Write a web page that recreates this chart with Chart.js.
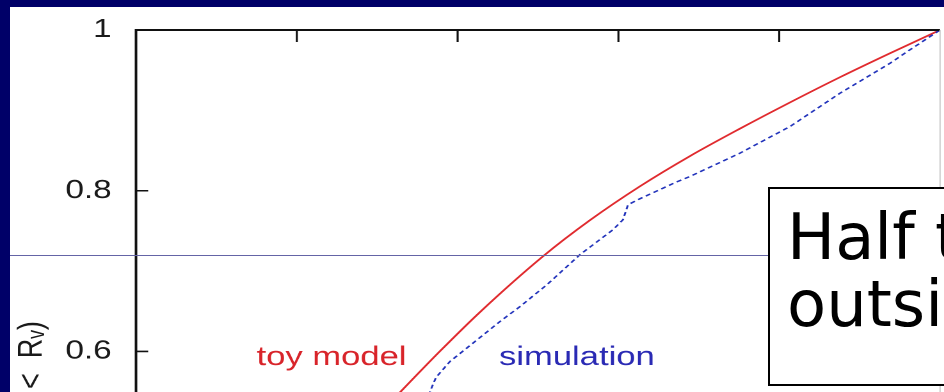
<!DOCTYPE html>
<html>
<head>
<meta charset="utf-8">
<script src="https://cdn.jsdelivr.net/npm/chart.js@4"></script>
<style>
  html, body { margin: 0; padding: 0; }
  body { width: 944px; height: 392px; overflow: hidden; background: #000068; position: relative; }
  #panel { position: absolute; left: 10px; top: 7px; right: 0; bottom: 0; background: #fff; }
  #wrap { position: absolute; left: 0; top: 0; width: 738px; height: 714px; transform: scaleX(1.28); transform-origin: 0 0; }
  #rule { position: absolute; left: 10px; top: 255px; width: 758px; height: 1px; background: #6464a6; }
  #note {
    position: absolute; left: 768px; top: 187px; width: 220px; height: 180px;
    border: 2px solid #000; background: #fff; box-sizing: content-box;
    font-family: "Comic Sans MS", "DejaVu Sans", sans-serif; font-size: 64px; line-height: 67px;
    padding: 15px 0 0 17px; white-space: nowrap; overflow: hidden; color: #000;
  }
</style>
</head>
<body>
<div id="panel"></div>
<div id="wrap"><canvas id="cdfChart"></canvas></div>
<div id="rule"></div>
<div id="note">Half the<br>outside</div>
<script>
// values (x = r / R_max, y = cumulative fraction)
const toyX = [0.3035, 0.3284, 0.3781, 0.4279, 0.5062, 0.5647, 0.6269, 0.6891, 0.7512, 0.8134, 0.8756, 0.9378, 1.0];
const toyY = [0.5230, 0.5492, 0.6004, 0.6491, 0.7184, 0.7634, 0.8056, 0.8432, 0.8773, 0.9099, 0.9413, 0.9711, 1.0];

const simX = [0.3632, 0.3657, 0.3731, 0.3905, 0.4216, 0.4527, 0.4776, 0.5112, 0.5522, 0.5933, 0.6057, 0.6119, 0.6269, 0.6729, 0.6891, 0.7512, 0.8134, 0.8756, 0.9378, 0.9590, 1.0];
const simY = [0.5280, 0.5503, 0.5677, 0.5876, 0.6124, 0.6373, 0.6559, 0.6832, 0.7205, 0.7516, 0.7640, 0.7826, 0.7901, 0.8112, 0.8178, 0.8468, 0.8799, 0.9214, 0.9586, 0.9730, 1.0];

const topTicks = [0.2, 0.4, 0.6, 0.8];
const yTitle = "f(r <  R\u1D65)";

const labels = [
  { text: "toy model", x: 0.150, y: 0.583, color: "#d8242a" },
  { text: "simulation", x: 0.4516, y: 0.583, color: "#2a2ab4" },
];

function toPoints(xs, ys) {
  return xs.map((x, i) => ({ x, y: ys[i] }));
}

// frame with inward ticks, like the original plot
const framePlugin = {
  id: "frame",
  afterDatasetsDraw(chart) {
    const { ctx, chartArea: a, scales } = chart;
    ctx.save();
    ctx.strokeStyle = "#111";
    ctx.lineWidth = 2;
    ctx.beginPath();
    ctx.moveTo(a.left, a.bottom);
    ctx.lineTo(a.left, a.top);
    ctx.lineTo(a.right, a.top);
    ctx.stroke();

    ctx.strokeStyle = "#ccc";
    ctx.lineWidth = 1;
    ctx.beginPath();
    ctx.moveTo(a.right, a.top);
    ctx.lineTo(a.right, a.bottom);
    ctx.stroke();

    ctx.strokeStyle = "#111";
    ctx.lineWidth = 1.6;
    ctx.beginPath();
    scales.y.ticks.forEach(t => {
      const py = scales.y.getPixelForValue(t.value);
      if (py <= a.top + 1) return;
      ctx.moveTo(a.left, py);
      ctx.lineTo(a.left + 9.5, py);
    });
    topTicks.forEach(v => {
      const px = scales.x.getPixelForValue(v);
      ctx.moveTo(px, a.top);
      ctx.lineTo(px, a.top + 12);
    });
    ctx.stroke();

    ctx.font = "27px 'Liberation Sans', Arial, sans-serif";
    ctx.textAlign = "left";
    ctx.textBaseline = "alphabetic";
    labels.forEach(l => {
      ctx.fillStyle = l.color;
      ctx.fillText(l.text, scales.x.getPixelForValue(l.x), scales.y.getPixelForValue(l.y));
    });
    ctx.restore();
  },
};

const ctx = document.getElementById("cdfChart").getContext("2d");

new Chart(ctx, {
  type: "line",
  data: {
    datasets: [
      {
        label: "simulation",
        data: toPoints(simX, simY),
        borderColor: "#2233bb",
        borderWidth: 1.5,
        borderDash: [4, 3],
        pointRadius: 0,
        tension: 0,
      },
      {
        label: "toy model",
        data: toPoints(toyX, toyY),
        borderColor: "#e02a2e",
        borderWidth: 1.7,
        pointRadius: 0,
        cubicInterpolationMode: "monotone",
      },
    ],
  },
  options: {
    responsive: true,
    maintainAspectRatio: false,
    animation: false,
    devicePixelRatio: 2,
    layout: { padding: { top: 30, right: 3.6, bottom: 0, left: 0 } },
    plugins: {
      legend: { display: false },
      tooltip: { enabled: false },
    },
    scales: {
      x: {
        type: "linear",
        min: 0,
        max: 1,
        display: false,
      },
      y: {
        type: "linear",
        min: 0.15,
        max: 1,
        grid: { display: false, drawTicks: false },
        border: { display: false },
        ticks: {
          stepSize: 0.2,
          padding: 19,
          color: "#1a1a1a",
          font: { family: "'Liberation Sans', Arial, sans-serif", size: 26 },
          callback: v => String(+v.toFixed(2)),
        },
        title: {
          display: true,
          text: yTitle,
          color: "#1a1a1a",
          padding: { top: 9, bottom: 0 },
          font: { family: "'Liberation Sans', Arial, sans-serif", size: 27 },
        },
        afterFit(scale) {
          scale.width = 106.25;
          scale.paddingTop = 0;
          scale.paddingBottom = 0;
        },
      },
    },
  },
  plugins: [framePlugin],
});
</script>
</body>
</html>
